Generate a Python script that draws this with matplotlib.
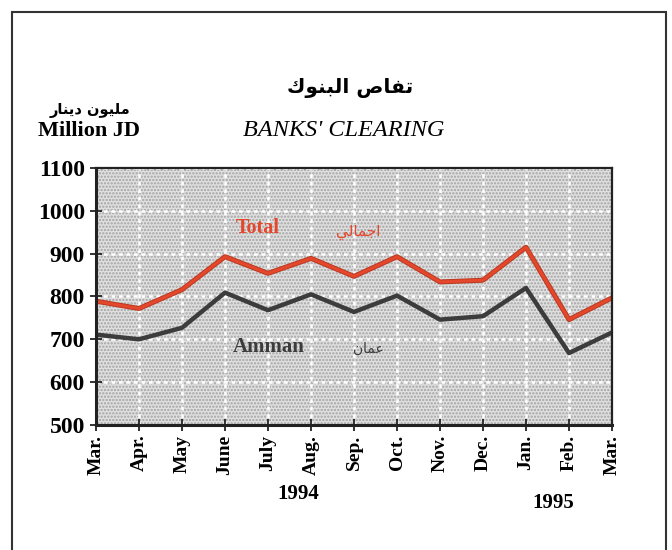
import matplotlib
matplotlib.use('Agg')
import matplotlib.pyplot as plt
from matplotlib.patches import Rectangle

months = ['Mar.', 'Apr.', 'May', 'June', 'July', 'Aug.', 'Sep.', 'Oct.',
          'Nov.', 'Dec.', 'Jan.', 'Feb.', 'Mar.']
total = [789, 772, 816, 893, 854, 889, 847, 893, 834, 838, 915, 746, 797]
amman = [711, 700, 727, 809, 768, 805, 764, 802, 746, 754, 820, 668, 716]
yticks = [500, 600, 700, 800, 900, 1000, 1100]

# Arabic strings written in shaped presentation forms, visual (LTR) order
ar_title = '\ufed9\ufeee\ufee8\ufe92\ufedf\ufe8d \ufeb9\ufe8e\ufed4\ufe97'   # تقاص البنوك
ar_unit = '\ufead\ufe8e\ufee8\ufef3\ufea9 \ufee5\ufeee\ufef4\ufee0\ufee3'    # مليون دينار
ar_total = '\ufef2\ufedf\ufe8e\ufee4\ufe9f\ufe8d'                           # اجمالي
ar_amman = '\ufee5\ufe8e\ufee4\ufecb'                                       # عمان

serif = 'Liberation Serif'
arab = ['DejaVu Sans']
red = '#e4472b'
dark = '#3c3c3c'
W, H = 672, 550

fig = plt.figure(figsize=(6.72, 5.5), dpi=100)
fig.patch.set_facecolor('white')

# outer frame
fig.patches.append(Rectangle((12 / W, -0.05), (666 - 12) / W, 1.05 - 12 / H,
                             transform=fig.transFigure, fill=False,
                             edgecolor='#333333', linewidth=1.5))

ax = fig.add_axes([96 / W, 1 - 425 / H, (612 - 96) / W, (425 - 168) / H])
x = list(range(len(months)))

# stippled background
ax.set_facecolor('#e0e0e0')
plt.rcParams['hatch.linewidth'] = 1.1
plt.rcParams['hatch.color'] = '#a2a2a2'
ax.add_patch(Rectangle((0, 0), 1, 1, transform=ax.transAxes, facecolor='none',
                       edgecolor='#a2a2a2', hatch='.....', linewidth=0, zorder=0))

for xi in x:
    ax.axvline(xi, color='white', linestyle=(0, (1.5, 1.5)), linewidth=1.8, zorder=1)
for yv in yticks:
    ax.axhline(yv, color='white', linestyle=(0, (1.5, 1.5)), linewidth=1.8, zorder=1)

ax.plot(x, total, color='#b83a22', linewidth=3.6, zorder=3)
ax.plot(x, total, color=red, linewidth=2.2, zorder=4)
ax.plot(x, amman, color=dark, linewidth=3.2, zorder=3)

ax.set_xlim(0, len(months) - 1)
ax.set_ylim(500, 1100)
ax.set_yticks(yticks)
ax.set_xticks(x)
ax.set_yticklabels([str(v) for v in yticks], fontfamily=serif, fontweight='bold',
                   fontsize=17)
ax.set_xticklabels(months, rotation=90, fontfamily=serif, fontweight='bold',
                   fontsize=14, va='top')
ax.tick_params(axis='both', direction='inout', length=8, width=1.3, color='#222222')
ax.tick_params(axis='y', pad=4)
ax.tick_params(axis='x', pad=3)
for side in ['left', 'bottom']:
    ax.spines[side].set_linewidth(2.2)
for side in ['top', 'right']:
    ax.spines[side].set_linewidth(1.6)
for sp in ax.spines.values():
    sp.set_color('#222222')
    sp.set_zorder(5)


def ftext(px, py, s, **kw):
    fig.text(px / W, 1 - py / H, s, **kw)


# in-plot labels
ftext(258, 228, 'Total', color=red, fontfamily=serif, fontweight='bold',
      fontsize=14.5, ha='center', va='center')
ftext(358, 232, ar_total, color=red, fontfamily=arab, fontsize=11,
      ha='center', va='center')
ftext(269, 347, 'Amman', color=dark, fontfamily=serif, fontweight='bold',
      fontsize=15, ha='center', va='center')
ftext(368, 349, ar_amman, color=dark, fontfamily=arab, fontsize=10,
      ha='center', va='center')

ftext(350, 88, ar_title, fontfamily=arab, fontsize=14.5, fontweight='bold',
      ha='center', va='center')
ftext(344, 130, "BANKS' CLEARING", fontfamily=serif, fontstyle='italic',
      fontsize=17.5, ha='center', va='center')
ftext(90, 110, ar_unit, fontfamily=arab, fontsize=10.5, ha='center',
      va='center', fontweight='bold')
ftext(89, 131, 'Million JD', fontfamily=serif, fontweight='bold', fontsize=16,
      ha='center', va='center')
ftext(298, 494, '1994', fontfamily=serif, fontweight='bold', fontsize=15,
      ha='center', va='center')
ftext(553, 503, '1995', fontfamily=serif, fontweight='bold', fontsize=15,
      ha='center', va='center')

fig.savefig('out.png', dpi=100)
